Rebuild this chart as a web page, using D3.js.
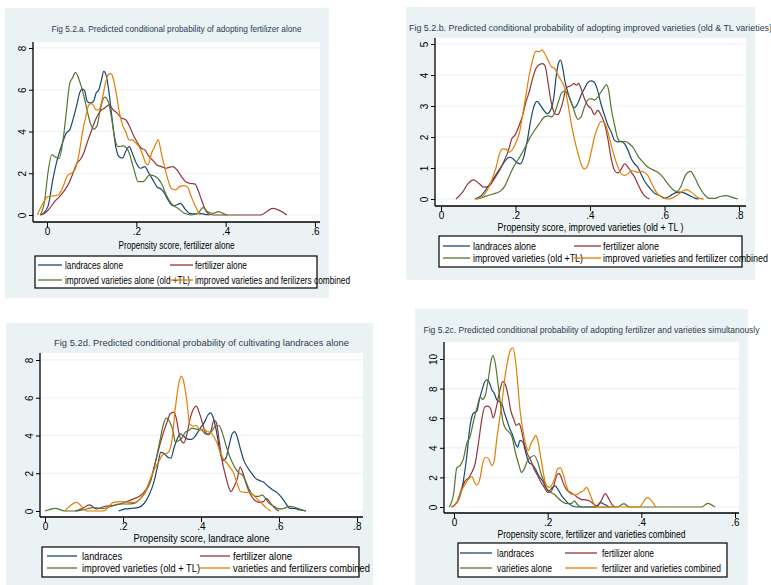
<!DOCTYPE html>
<html><head><meta charset="utf-8">
<script src="https://cdn.jsdelivr.net/npm/d3@7"></script>
<style>
body{margin:0;background:#fff;}
svg{display:block;font-family:"Liberation Sans Narrow","Arial Narrow","Liberation Sans",Arial,sans-serif;}
</style></head>
<body>
<svg id="chart" width="771" height="585"></svg>
<script>
// ---------- Titles / labels ----------
const titles = [
  "Fig 5.2.a. Predicted conditional probability of adopting fertilizer alone",
  "Fig 5.2.b. Predicted conditional probability of adopting improved varieties (old & TL varieties)",
  "Fig 5.2d. Predicted conditional probability of cultivating landraces alone",
  "Fig 5.2c. Predicted conditional probability of adopting fertilizer and varieties simultanously"
];
const axisTitles = [
  "Propensity score, fertilizer alone",
  "Propensity score, improved varieties (old + TL )",
  "Propensity score, landrace alone",
  "Propensity score, fertilizer and varieties combined"
];
const aLegend = ["landraces alone","fertilizer alone","improved varieties alone (old +TL)","improved varieties and ferilizers combined"];
const bLegend = ["landraces alone","fertilizer alone","improved varieties (old +TL)","improved varieties and fertilizer combined"];
const dLegend = ["landraces","fertilizer alone","improved varieties (old + TL)","varieties and fertilizers combined"];
const cLegend = ["landraces","fertilizer alone","varieties alone","fertilizer and varieties combined"];

// ---------- Tick values ----------
const aXTicks = [0, 0.2, 0.4, 0.6], aYTicks = [0, 2, 4, 6, 8];
const bXTicks = [0, 0.2, 0.4, 0.6, 0.8], bYTicks = [0, 1, 2, 3, 4, 5];
const dXTicks = [0, 0.2, 0.4, 0.6, 0.8], dYTicks = [0, 2, 4, 6, 8];
const cXTicks = [0, 0.2, 0.4, 0.6], cYTicks = [0, 2, 4, 6, 8, 10];

// ---------- Panel a: fertilizer alone ----------
const aLandraces = [[-0.013,0],[0.002,0.4],[0.013,1.68],[0.021,2.48],[0.032,3.28],[0.043,3.92],[0.051,4.08],[0.058,4.56],[0.066,5.2],[0.073,5.84],[0.079,6.03],[0.084,5.97],[0.090,5.44],[0.097,5.36],[0.104,5.44],[0.110,5.84],[0.116,6.0],[0.122,6.48],[0.127,6.88],[0.133,6.64],[0.139,5.84],[0.146,4.56],[0.154,3.28],[0.161,2.8],[0.169,2.72],[0.176,3.04],[0.184,3.28],[0.191,2.96],[0.2,2.48],[0.209,2.24],[0.219,2.32],[0.228,2.0],[0.237,1.68],[0.246,1.36],[0.256,1.23],[0.263,1.04],[0.271,0.72],[0.281,0.45],[0.290,0.48],[0.299,0.56],[0.308,0.32],[0.319,0.08],[0.331,0.05],[0.342,0.08],[0.353,0.03],[0.364,0]];
const aFertilizer = [[-0.016,0],[-0.005,0.08],[0.006,0.32],[0.017,0.64],[0.028,0.88],[0.040,1.2],[0.049,1.52],[0.058,2.0],[0.067,2.48],[0.075,2.67],[0.082,2.96],[0.092,3.6],[0.099,4.0],[0.107,4.48],[0.114,4.8],[0.122,5.04],[0.129,5.12],[0.139,5.28],[0.148,5.04],[0.157,4.88],[0.167,4.64],[0.176,4.56],[0.185,4.24],[0.193,3.84],[0.201,3.52],[0.211,3.2],[0.219,3.12],[0.226,2.88],[0.236,2.64],[0.246,2.4],[0.256,2.32],[0.266,2.24],[0.275,2.29],[0.282,2.32],[0.291,2.16],[0.301,1.84],[0.310,1.6],[0.319,1.52],[0.331,1.49],[0.338,1.2],[0.346,0.72],[0.353,0.32],[0.360,0.08],[0.372,0],[0.477,0],[0.506,0.32],[0.537,0]];
const aVarieties = [[-0.015,0],[-0.005,0.72],[0.002,2.0],[0.011,2.88],[0.019,2.77],[0.027,2.7],[0.036,3.6],[0.043,4.88],[0.051,6.32],[0.057,6.56],[0.064,6.83],[0.073,6.4],[0.081,5.84],[0.088,5.2],[0.097,4.4],[0.104,4.11],[0.112,4.27],[0.119,5.04],[0.129,5.65],[0.137,5.44],[0.144,4.72],[0.151,3.76],[0.159,3.28],[0.170,3.31],[0.181,3.12],[0.193,2.32],[0.204,1.6],[0.215,1.6],[0.230,1.92],[0.243,1.84],[0.256,1.52],[0.267,0.96],[0.278,0.56],[0.293,0.32],[0.308,0.08],[0.323,0],[0.338,0.08],[0.349,0.35],[0.360,0.16],[0.372,0.08],[0.383,0.16],[0.394,0.08],[0.403,0]];
const aCombined = [[-0.022,0],[-0.009,0.56],[0.002,0.88],[0.013,0.91],[0.025,0.96],[0.036,1.36],[0.047,1.92],[0.057,2.03],[0.064,2.24],[0.072,2.96],[0.079,3.92],[0.087,4.72],[0.094,5.28],[0.101,5.33],[0.110,5.04],[0.116,5.04],[0.124,5.6],[0.131,6.32],[0.137,6.72],[0.143,6.77],[0.149,6.48],[0.155,5.84],[0.161,5.04],[0.169,4.32],[0.176,4.0],[0.184,3.6],[0.191,3.6],[0.199,3.44],[0.206,3.28],[0.213,2.96],[0.221,2.48],[0.226,2.4],[0.234,2.96],[0.241,3.28],[0.249,3.6],[0.256,2.96],[0.263,2.32],[0.271,1.68],[0.278,1.28],[0.288,1.2],[0.297,1.36],[0.308,1.41],[0.316,1.28],[0.323,0.88],[0.331,0.48],[0.338,0.16],[0.343,0]];

// ---------- Panel b: improved varieties ----------
const bLandraces = [[0.091,0],[0.108,0.11],[0.125,0.38],[0.143,0.7],[0.161,1.03],[0.175,1.27],[0.184,1.35],[0.193,1.3],[0.204,1.17],[0.213,1.13],[0.222,1.35],[0.231,1.84],[0.240,2.48],[0.249,2.97],[0.258,3.15],[0.267,3.02],[0.276,2.86],[0.285,2.75],[0.294,2.86],[0.303,3.29],[0.309,3.94],[0.315,4.37],[0.321,4.48],[0.327,4.21],[0.333,3.78],[0.340,3.46],[0.349,3.13],[0.358,2.94],[0.367,3.08],[0.376,3.35],[0.385,3.56],[0.394,3.76],[0.403,3.81],[0.410,3.78],[0.419,3.56],[0.428,3.13],[0.439,2.7],[0.448,2.38],[0.457,2.16],[0.466,1.89],[0.475,1.84],[0.484,1.86],[0.493,1.78],[0.502,1.57],[0.511,1.3],[0.520,1.13],[0.528,1.03],[0.537,0.81],[0.546,0.59],[0.555,0.43],[0.564,0.3],[0.573,0.19],[0.587,0.11],[0.600,0.02],[0.614,0.09],[0.627,0.19],[0.641,0.22],[0.654,0.19],[0.667,0.11],[0.681,0.03],[0.692,0]];
const bFertilizer = [[0.040,0],[0.058,0.22],[0.072,0.49],[0.088,0.62],[0.103,0.49],[0.116,0.38],[0.130,0.43],[0.143,0.65],[0.157,0.92],[0.170,1.24],[0.181,1.57],[0.190,1.94],[0.199,2.07],[0.210,2.38],[0.219,2.7],[0.228,3.13],[0.237,3.46],[0.246,3.89],[0.255,4.21],[0.264,4.34],[0.273,4.37],[0.280,4.27],[0.287,3.78],[0.294,3.24],[0.300,2.92],[0.306,2.75],[0.314,2.72],[0.321,2.89],[0.327,3.13],[0.333,3.46],[0.340,3.62],[0.349,3.65],[0.357,3.73],[0.363,3.67],[0.369,3.73],[0.376,3.56],[0.385,3.24],[0.394,3.02],[0.403,2.92],[0.412,2.72],[0.421,2.86],[0.430,2.7],[0.439,2.43],[0.448,1.94],[0.457,1.3],[0.466,0.92],[0.475,0.84],[0.484,0.97],[0.493,1.13],[0.502,1.03],[0.511,0.86],[0.520,0.7],[0.528,0.49],[0.537,0.27],[0.546,0.11],[0.560,0]];
const bVarieties = [[0.094,0],[0.112,0.05],[0.130,0.13],[0.148,0.19],[0.161,0.27],[0.172,0.43],[0.184,0.76],[0.197,1.08],[0.211,1.35],[0.224,1.62],[0.237,1.94],[0.251,2.21],[0.264,2.43],[0.278,2.65],[0.288,2.68],[0.297,2.65],[0.306,2.81],[0.315,3.13],[0.324,3.43],[0.333,3.48],[0.342,3.35],[0.351,3.08],[0.360,2.75],[0.367,2.57],[0.376,2.65],[0.385,2.97],[0.394,3.19],[0.403,3.24],[0.412,3.19],[0.421,3.29],[0.430,3.46],[0.439,3.62],[0.444,3.69],[0.450,3.51],[0.457,2.92],[0.466,2.38],[0.475,1.94],[0.484,1.84],[0.494,1.86],[0.506,1.78],[0.518,1.62],[0.528,1.4],[0.542,1.19],[0.555,1.03],[0.569,0.94],[0.582,0.86],[0.596,0.7],[0.609,0.49],[0.623,0.3],[0.634,0.24],[0.645,0.43],[0.656,0.76],[0.670,0.89],[0.681,0.7],[0.694,0.38],[0.708,0.13],[0.721,0.02],[0.734,0.02],[0.750,0.08],[0.766,0.11],[0.782,0.05],[0.797,0]];
const bCombined = [[0.094,0],[0.108,0.05],[0.121,0.22],[0.134,0.54],[0.148,1.03],[0.157,1.46],[0.166,1.62],[0.175,1.6],[0.184,1.51],[0.193,1.62],[0.202,1.84],[0.211,2.16],[0.219,2.7],[0.228,3.35],[0.237,4.0],[0.246,4.48],[0.255,4.77],[0.264,4.75],[0.271,4.81],[0.278,4.7],[0.287,4.48],[0.296,4.27],[0.305,4.21],[0.314,4.0],[0.322,3.83],[0.331,3.62],[0.340,3.13],[0.349,2.48],[0.358,1.94],[0.367,1.51],[0.376,1.13],[0.385,0.97],[0.394,1.08],[0.403,1.51],[0.412,2.0],[0.421,2.32],[0.430,2.5],[0.439,2.46],[0.448,2.16],[0.457,1.73],[0.466,1.35],[0.475,1.03],[0.484,0.81],[0.493,0.76],[0.502,0.81],[0.511,0.92],[0.520,0.89],[0.528,0.86],[0.537,0.89],[0.546,0.86],[0.555,0.76],[0.564,0.54],[0.573,0.32],[0.582,0.16],[0.591,0.09],[0.600,0.03],[0.609,0],[0.618,0.02],[0.632,0.11],[0.645,0.22],[0.658,0.3],[0.667,0.26],[0.681,0.13],[0.694,0.02],[0.706,0]];

// ---------- Panel d: landraces alone ----------
const dLandraces = [[0.189,0],[0.206,0.11],[0.223,0.14],[0.240,0.19],[0.253,0.37],[0.266,0.81],[0.279,1.52],[0.289,2.41],[0.297,3.12],[0.306,3.03],[0.315,2.85],[0.323,2.8],[0.330,3.29],[0.339,3.82],[0.347,4.09],[0.356,3.96],[0.364,3.82],[0.375,3.79],[0.383,3.91],[0.392,4.18],[0.400,4.44],[0.409,4.71],[0.417,5.06],[0.424,5.2],[0.431,4.97],[0.440,4.18],[0.448,3.2],[0.457,2.67],[0.464,2.8],[0.471,3.38],[0.480,4.09],[0.486,4.21],[0.493,3.91],[0.501,3.29],[0.510,2.67],[0.519,2.32],[0.529,2.02],[0.540,1.73],[0.551,1.61],[0.561,1.52],[0.572,1.31],[0.583,1.13],[0.596,0.96],[0.606,0.73],[0.617,0.42],[0.628,0.14],[0.639,0.14],[0.651,0.07],[0.669,0]];
const dFertilizer = [[0.077,0],[0.094,0.11],[0.114,0.32],[0.133,0.11],[0.154,0.25],[0.171,0.28],[0.193,0.37],[0.210,0.5],[0.227,0.64],[0.244,0.81],[0.257,1.08],[0.270,1.61],[0.283,2.58],[0.294,3.47],[0.304,4.18],[0.313,4.71],[0.321,5.15],[0.330,5.24],[0.337,4.88],[0.343,4.18],[0.349,3.73],[0.356,3.61],[0.364,4.09],[0.373,4.97],[0.381,5.42],[0.388,5.56],[0.395,5.24],[0.403,4.71],[0.411,4.18],[0.420,4.04],[0.426,4.27],[0.433,4.8],[0.439,4.71],[0.446,3.82],[0.454,2.67],[0.463,1.88],[0.471,1.26],[0.477,1.03],[0.484,1.26],[0.493,1.7],[0.500,2.32],[0.507,2.05],[0.516,1.43],[0.526,0.9],[0.536,0.6],[0.549,0.46],[0.560,0.5],[0.568,0.67],[0.577,0.46],[0.587,0.19],[0.600,0]];
const dVarieties = [[0,0],[0.026,0.14],[0.051,0],[0.077,0],[0.099,0.07],[0.124,0.18],[0.150,0.14],[0.171,0.25],[0.189,0.37],[0.210,0.37],[0.231,0.42],[0.244,0.64],[0.257,0.99],[0.270,1.52],[0.283,2.58],[0.294,3.65],[0.304,4.62],[0.311,4.92],[0.320,4.71],[0.329,4.18],[0.334,3.65],[0.343,3.73],[0.351,3.86],[0.360,4.18],[0.369,4.27],[0.377,4.39],[0.386,4.35],[0.394,4.32],[0.403,4.27],[0.411,4.09],[0.420,4.09],[0.429,4.27],[0.437,4.5],[0.446,4.53],[0.454,4.18],[0.463,3.56],[0.471,3.03],[0.480,2.58],[0.489,2.23],[0.497,2.02],[0.506,1.91],[0.514,1.61],[0.523,1.17],[0.531,0.9],[0.540,0.78],[0.549,0.78],[0.557,0.85],[0.566,0.64],[0.574,0.42],[0.587,0.25],[0.600,0.11],[0.613,0.14],[0.626,0.25],[0.639,0.21],[0.651,0.11],[0.669,0]];
const dCombined = [[0.051,0],[0.081,0.46],[0.107,0],[0.150,0],[0.176,0.46],[0.197,0.5],[0.214,0.46],[0.231,0.46],[0.244,0.64],[0.257,0.99],[0.270,1.7],[0.283,2.32],[0.291,2.58],[0.300,2.94],[0.309,3.03],[0.317,3.12],[0.326,3.82],[0.334,5.42],[0.343,6.74],[0.349,7.15],[0.356,6.83],[0.364,5.77],[0.371,4.62],[0.380,4.5],[0.388,4.53],[0.397,4.32],[0.407,4.32],[0.416,4.21],[0.424,4.18],[0.431,4.0],[0.440,3.65],[0.448,3.2],[0.457,2.76],[0.466,2.55],[0.474,2.32],[0.483,2.05],[0.493,1.43],[0.501,1.03],[0.512,0.99],[0.523,0.99],[0.534,0.85],[0.544,0.64],[0.555,0.42],[0.566,0.19],[0.579,0]];

// ---------- Panel c: fertilizer and varieties combined ----------
const cLandraces = [[-0.005,0],[0.006,0.3],[0.013,0.75],[0.020,1.77],[0.027,3.36],[0.034,5.41],[0.041,6.32],[0.049,6.5],[0.054,7.23],[0.060,7.91],[0.066,8.48],[0.071,8.59],[0.076,8.36],[0.081,7.91],[0.086,7.68],[0.091,7.27],[0.097,7.11],[0.102,7.0],[0.107,6.43],[0.113,5.86],[0.119,5.3],[0.124,4.95],[0.130,4.39],[0.136,4.05],[0.141,4.5],[0.147,4.39],[0.153,3.7],[0.160,3.02],[0.167,2.86],[0.174,2.57],[0.181,2.11],[0.189,1.77],[0.196,1.32],[0.203,1.09],[0.210,1.32],[0.216,1.43],[0.223,1.14],[0.230,0.75],[0.238,0.45],[0.245,0.23],[0.254,0.05],[0.263,0],[0.302,0],[0.313,0.3],[0.321,0.18],[0.331,0]];
const cFertilizer = [[-0.005,0],[0.006,0.3],[0.016,1.2],[0.024,1.77],[0.031,1.95],[0.038,2.34],[0.045,2.91],[0.052,4.27],[0.059,5.86],[0.066,6.77],[0.072,6.82],[0.078,6.66],[0.084,6.02],[0.089,6.55],[0.095,7.45],[0.100,8.14],[0.104,8.48],[0.110,8.25],[0.116,7.45],[0.121,6.55],[0.127,5.98],[0.133,5.52],[0.139,5.64],[0.144,5.18],[0.150,4.27],[0.157,3.59],[0.164,3.14],[0.171,2.57],[0.179,2.11],[0.186,1.66],[0.193,1.32],[0.200,0.98],[0.207,1.05],[0.213,1.43],[0.219,2.11],[0.224,2.27],[0.229,2.0],[0.234,1.55],[0.241,1.14],[0.249,0.98],[0.257,0.82],[0.264,0.64],[0.271,0.52],[0.281,0.48],[0.290,0.41],[0.299,0.18],[0.306,0.07],[0.314,0.41],[0.323,0.91],[0.331,0.52],[0.338,0.14],[0.343,0]];
const cVarieties = [[-0.010,0],[-0.001,0.86],[0.006,2.64],[0.013,2.8],[0.020,3.25],[0.027,4.27],[0.034,4.73],[0.043,5.98],[0.050,6.82],[0.056,7.45],[0.061,7.27],[0.067,7.57],[0.073,8.59],[0.079,9.84],[0.083,10.23],[0.088,9.73],[0.093,8.59],[0.099,7.0],[0.104,5.86],[0.110,5.3],[0.117,5.07],[0.124,4.73],[0.131,3.7],[0.139,2.8],[0.144,2.34],[0.150,2.57],[0.157,3.14],[0.164,3.36],[0.171,3.48],[0.179,3.02],[0.186,2.23],[0.193,1.66],[0.200,1.09],[0.207,0.98],[0.214,0.86],[0.221,0.64],[0.229,0.41],[0.238,0.25],[0.250,0.23],[0.257,0.41],[0.264,0.14],[0.274,0],[0.349,0],[0.363,0.23],[0.374,0],[0.529,0],[0.542,0.25],[0.557,0]];
const cCombined = [[-0.005,0],[0.006,0.3],[0.016,1.09],[0.024,1.55],[0.031,1.89],[0.038,2.05],[0.044,1.66],[0.049,1.5],[0.056,2.0],[0.061,2.91],[0.067,3.36],[0.074,3.25],[0.081,2.8],[0.086,3.14],[0.091,4.5],[0.097,5.86],[0.103,7.23],[0.110,9.05],[0.116,10.07],[0.121,10.64],[0.126,10.75],[0.131,9.95],[0.136,8.36],[0.141,6.55],[0.147,5.18],[0.153,4.27],[0.159,3.82],[0.164,4.27],[0.170,4.61],[0.174,4.84],[0.179,4.5],[0.184,3.59],[0.190,2.45],[0.196,1.55],[0.203,1.32],[0.210,1.55],[0.216,2.0],[0.221,2.57],[0.227,2.64],[0.233,2.23],[0.239,1.55],[0.246,0.98],[0.253,0.86],[0.261,0.82],[0.269,0.98],[0.276,1.09],[0.283,1.32],[0.289,0.98],[0.296,0.41],[0.303,0],[0.395,0],[0.413,0.64],[0.431,0]];

// ---------- Styling ----------
const colors = ["#1a476f", "#90353b", "#55752f", "#e37e00"];
const bgColor = "#eaf2f3";

const panels = [
  { bg:[5,8,324,290], plot:[33,42,320,222], xr:[47,315], xd:[0,0.6], yr:[215,48], yd:[0,8],
    xTicks:aXTicks, yTicks:aYTicks, title:titles[0], titleW:250, titleY:32, axisTitle:axisTitles[0], atW:116, atY:249,
    series:[aLandraces,aFertilizer,aVarieties,aCombined], legend:aLegend, legW:[58,52,125,155],
    lg:[35,256,282,32], rows:[265,280], c1:[38,62,65], c2:[170,193,195] },
  { bg:[406,7,349,273], plot:[435,38,746,206], xr:[441,739], xd:[0,0.8], yr:[199,44], yd:[0,5],
    xTicks:bXTicks, yTicks:bYTicks, title:titles[1], titleW:363, titleY:31, axisTitle:axisTitles[1], atW:186, atY:231,
    series:[bLandraces,bFertilizer,bVarieties,bCombined], legend:bLegend, legW:[63,56,110,165],
    lg:[439,236,303,31], rows:[246,258], c1:[443,470,473], c2:[574,601,603] },
  { bg:[6,323,367,262], plot:[40,353,363,517], xr:[45,357], xd:[0,0.8], yr:[511,360], yd:[0,8],
    xTicks:dXTicks, yTicks:dYTicks, title:titles[2], titleW:295, titleY:346, axisTitle:axisTitles[2], atW:136, atY:542,
    series:[dLandraces,dFertilizer,dVarieties,dCombined], legend:dLegend, legW:[40,59,118,137],
    lg:[42,547,317,30], rows:[556,568], c1:[47,77,82], c2:[200,230,233] },
  { bg:[415,309,333,276], plot:[444,342,739,513], xr:[454,735], xd:[0,0.6], yr:[507,359], yd:[0,10],
    xTicks:cXTicks, yTicks:cYTicks, title:titles[3], titleW:336, titleY:333, axisTitle:axisTitles[3], atW:188, atY:538,
    series:[cLandraces,cFertilizer,cVarieties,cCombined], legend:cLegend, legW:[37,52,55,119],
    lg:[458,543,269,34], rows:[553,568], c1:[460,492,497], c2:[565,597,602] }
];

const svg = d3.select("#chart");
const fmt = d => d === 0 ? "0" : (Number.isInteger(d) ? String(d) : d3.format(".1f")(d).replace(/^0/, ""));

panels.forEach(p => {
  const g = svg.append("g");
  g.append("rect").attr("x", p.bg[0]).attr("y", p.bg[1]).attr("width", p.bg[2]).attr("height", p.bg[3]).attr("fill", bgColor);
  const [px0, py0, px1, py1] = p.plot;
  g.append("rect").attr("x", px0).attr("y", py0).attr("width", px1 - px0).attr("height", py1 - py0).attr("fill", "#fff");

  const x = d3.scaleLinear().domain(p.xd).range(p.xr);
  const y = d3.scaleLinear().domain(p.yd).range(p.yr);

  g.append("g").selectAll("line").data(p.yTicks).join("line")
    .attr("x1", px0).attr("x2", px1).attr("y1", d => y(d)).attr("y2", d => y(d))
    .attr("stroke", bgColor).attr("stroke-width", 1.2);

  const line = d3.line().x(d => x(d[0])).y(d => y(d[1])).curve(d3.curveMonotoneX);
  p.series.forEach((s, i) => {
    g.append("path").datum(s).attr("d", line).attr("fill", "none")
      .attr("stroke", colors[i]).attr("stroke-width", 1.2).attr("stroke-linejoin", "round");
  });

  const xa = g.append("g").attr("transform", `translate(0,${py1})`)
    .call(d3.axisBottom(x).tickValues(p.xTicks).tickFormat(fmt).tickSize(5).tickPadding(1));
  xa.select(".domain").remove();
  xa.selectAll("text").attr("font-size", 10).attr("fill", "#000").attr("font-family", null);
  xa.selectAll("line").attr("stroke", "#000");
  g.append("line").attr("x1", px0).attr("x2", px1).attr("y1", py1).attr("y2", py1).attr("stroke", "#000").attr("stroke-width", 1.3);

  const ya = g.append("g").attr("transform", `translate(${px0},0)`)
    .call(d3.axisLeft(y).tickValues(p.yTicks).tickFormat(fmt).tickSize(4));
  ya.select(".domain").remove();
  ya.selectAll("line").attr("stroke", "#000");
  ya.selectAll("text").attr("font-size", 10).attr("fill", "#000").attr("font-family", null)
    .attr("x", null).attr("dy", null).attr("text-anchor", "middle")
    .attr("transform", "translate(-11,0) rotate(-90)").attr("dominant-baseline", "central");
  g.append("line").attr("x1", px0).attr("x2", px0).attr("y1", py0).attr("y2", py1).attr("stroke", "#000").attr("stroke-width", 1.3);

  const cx = (px0 + px1) / 2;
  g.append("text").attr("x", cx).attr("y", p.titleY).attr("text-anchor", "middle")
    .attr("font-size", 9.5).attr("fill", "#2e3d50")
    .attr("textLength", p.titleW).attr("lengthAdjust", "spacingAndGlyphs").text(p.title);

  g.append("text").attr("x", cx).attr("y", p.atY).attr("text-anchor", "middle")
    .attr("font-size", 10.5).attr("fill", "#000")
    .attr("textLength", p.atW).attr("lengthAdjust", "spacingAndGlyphs").text(p.axisTitle);

  g.append("rect").attr("x", p.lg[0]).attr("y", p.lg[1]).attr("width", p.lg[2]).attr("height", p.lg[3])
    .attr("fill", "#fff").attr("stroke", "#000").attr("stroke-width", 1.2);
  const cols = [p.c1, p.c2];
  p.legend.forEach((lab, i) => {
    const c = cols[i % 2], ry = p.rows[Math.floor(i / 2)];
    g.append("text").attr("x", c[2]).attr("y", ry).attr("dominant-baseline", "central")
      .attr("font-size", 10.5).attr("fill", "#000")
      .attr("textLength", p.legW[i]).attr("lengthAdjust", "spacingAndGlyphs").text(lab);
  });
  p.legend.forEach((lab, i) => {
    const c = cols[i % 2], ry = p.rows[Math.floor(i / 2)];
    g.append("line").attr("x1", c[0]).attr("x2", c[1]).attr("y1", ry).attr("y2", ry)
      .attr("stroke", colors[i]).attr("stroke-width", 1.3);
  });
});
</script>
</body></html>
